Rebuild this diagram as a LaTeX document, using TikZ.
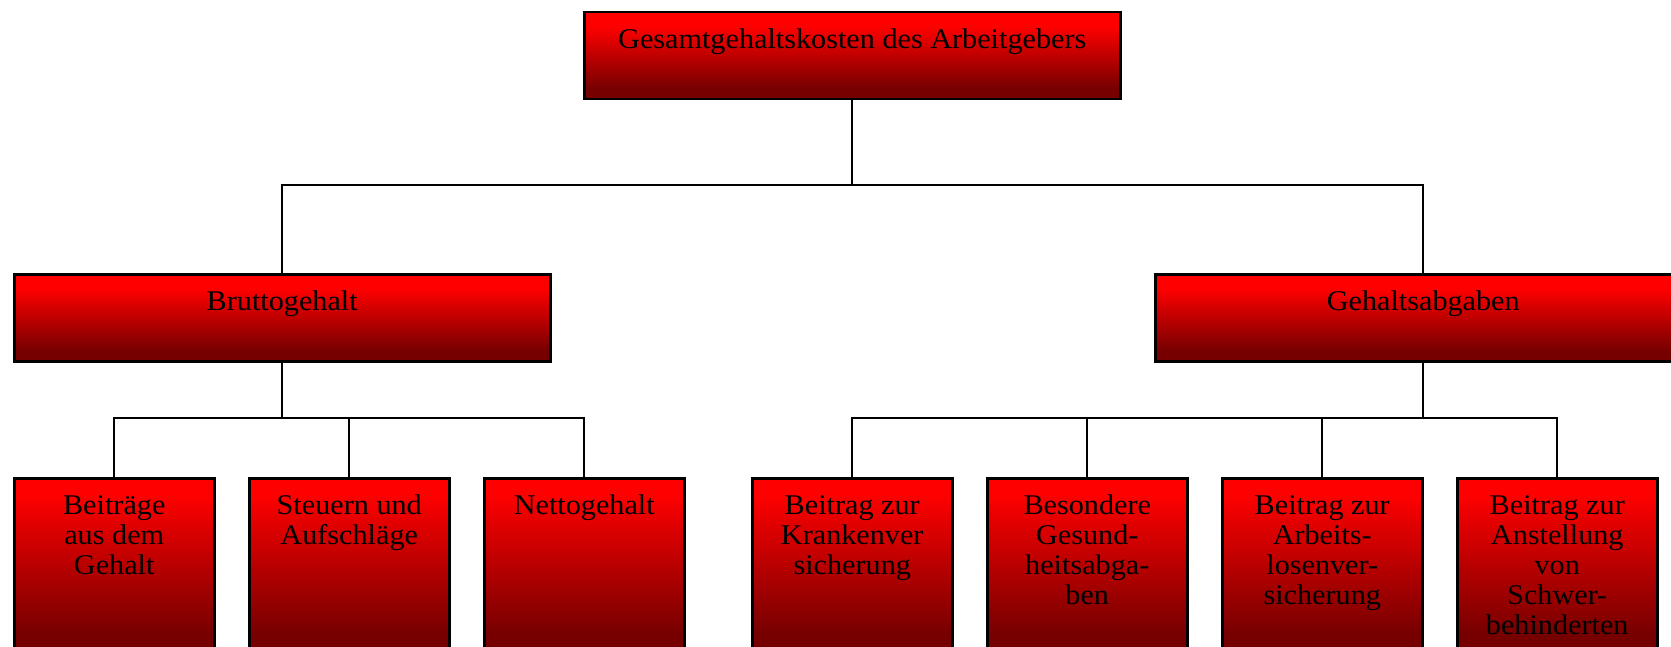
\documentclass[tikz,border=0pt]{standalone}
\usepackage{fontspec}
\setmainfont[FakeStretch=1.06]{Liberation Serif}
\definecolor{dred}{RGB}{118,0,0}
\definecolor{bred}{RGB}{255,0,0}
\pgfdeclareverticalshading{gradA}{100bp}{color(0bp)=(dred); color(31bp)=(dred); color(67bp)=(bred); color(100bp)=(bred)}
\pgfdeclareverticalshading{gradB}{100bp}{color(0bp)=(dred); color(34bp)=(dred); color(71bp)=(bred); color(100bp)=(bred)}
\newcommand{\boxtxt}[3]{\begin{minipage}[t][#2pt][t]{#1pt}\centering\vspace*{15pt}\strut #3\end{minipage}}
\tikzset{
  wide/.style={draw=black, line width=2.5pt, shading=gradA, inner sep=0pt, anchor=north west},
  tall/.style={draw=black, line width=2.5pt, shading=gradB, inner sep=0pt, anchor=north west},
  link/.style={draw=black, line width=2.3pt}
}
\begin{document}
\begin{tikzpicture}[x=1pt,y=-1pt,font=\fontsize{28.5}{30}\selectfont]
\useasboundingbox (0,0) rectangle (1671,647);
\clip (0,0) rectangle (1671,647);
\node[wide] (top) at (583,11) {\boxtxt{536}{87}{Gesamtgehaltskosten des Arbeitgebers}};
\node[wide] (brutto) at (13,273) {\boxtxt{536}{87}{Bruttogehalt}};
\node[wide] (abg) at (1154,273) {\boxtxt{536}{87}{Gehaltsabgaben}};
\node[tall] (c1) at (13,477) {\boxtxt{200}{190}{Beiträge\\aus dem\\Gehalt}};
\node[tall] (c2) at (248,477) {\boxtxt{200}{190}{Steuern und\\Aufschläge}};
\node[tall] (c3) at (483,477) {\boxtxt{200}{190}{Nettogehalt}};
\node[tall] (c4) at (751,477) {\boxtxt{200}{190}{Beitrag zur\\Krankenver\\sicherung}};
\node[tall] (c5) at (986,477) {\boxtxt{200}{190}{Besondere\\Gesund-\\heitsabga-\\ben}};
\node[tall] (c6) at (1221,477) {\boxtxt{200}{190}{Beitrag zur\\Arbeits-\\losenver-\\sicherung}};
\node[tall] (c7) at (1456,477) {\boxtxt{200}{190}{Beitrag zur\\Anstellung\\von\\Schwer-\\behinderten}};
\coordinate (h1) at (0,185);
\coordinate (h2) at (0,418);
\draw[link] (top.south) -- (top.south |- h1) -| (brutto.north);
\draw[link] (top.south |- h1) -| (abg.north);
\draw[link] (brutto.south) -- (brutto.south |- h2) -| (c1.north);
\draw[link] (brutto.south |- h2) -| (c3.north);
\draw[link] (c2.north) -- (c2.north |- h2);
\draw[link] (abg.south) -- (abg.south |- h2) -| (c4.north);
\draw[link] (abg.south |- h2) -| (c7.north);
\draw[link] (c5.north) -- (c5.north |- h2);
\draw[link] (c6.north) -- (c6.north |- h2);
\end{tikzpicture}
\end{document}
